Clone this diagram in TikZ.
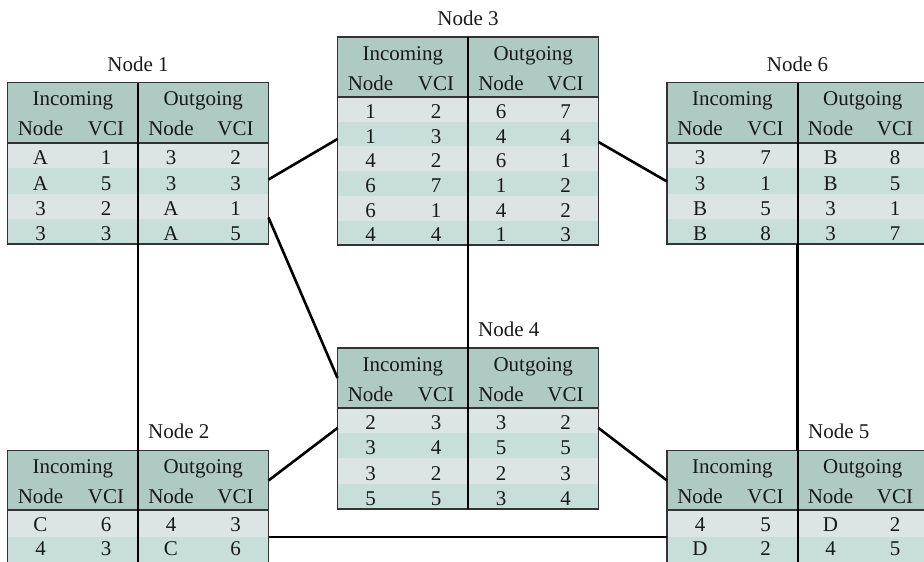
\documentclass[tikz,border=0pt]{standalone}
\usepackage{fontspec}
\setmainfont{Liberation Serif}
\usetikzlibrary{calc}
\definecolor{headfill}{HTML}{AFCAC3}
\definecolor{rowlight}{HTML}{DDE4E6}
\definecolor{rowdark}{HTML}{C8DEDA}
\definecolor{rulegray}{HTML}{333333}
\tikzset{
  cell/.style={anchor=base, inner sep=0pt, text=black!90, font=\fontsize{21}{24}\selectfont},
  lbl/.style={inner sep=0pt, text=black!90, font=\fontsize{21}{24}\selectfont},
  tablebox/.style={draw=rulegray, line width=1.5pt, rectangle, inner sep=0pt, outer sep=0pt, anchor=north west},
  midrule/.style={line width=2pt, black},
  headrule/.style={line width=1.5pt, rulegray},
  link/.style={line width=2.6pt, black},
}
% #1 name, #2 left, #3 top, #4 header height, #5 row height, #6 rows count, #7 rows,
% #8 first text baseline below body top, #9 text line pitch
\newcommand{\vctable}[9]{%
  \fill[headfill] (#2,#3) rectangle ++(261,#4);
  \foreach \a/\b/\c/\d [count=\i] in {#7} {
    \pgfmathsetmacro{\ry}{#3+#4+(\i-1)*#5}
    \pgfmathsetmacro{\ty}{#3+#4+#8+(\i-1)*#9}
    \pgfmathtruncatemacro{\odd}{mod(\i,2)}
    \ifnum\odd=1 \def\rc{rowlight}\else\def\rc{rowdark}\fi
    \fill[\rc] (#2,\ry) rectangle ++(261,#5);
    \node[cell] (#1-\i-a) at (#2+33,\ty) {\a};
    \node[cell] (#1-\i-b) at (#2+98.5,\ty) {\b};
    \node[cell] (#1-\i-c) at (#2+163.5,\ty) {\c};
    \node[cell] (#1-\i-d) at (#2+228,\ty) {\d};
  }
  \node[cell] (#1-in) at (#2+65.25,#3+23) {Incoming};
  \node[cell] (#1-out) at (#2+195.75,#3+23) {Outgoing};
  \node[cell] (#1-h1) at (#2+33,#3+53) {Node};
  \node[cell] (#1-h2) at (#2+98.5,#3+53) {VCI};
  \node[cell] (#1-h3) at (#2+163.5,#3+53) {Node};
  \node[cell] (#1-h4) at (#2+228,#3+53) {VCI};
  \node[tablebox, minimum width=261, minimum height={#4+#5*#6}] (#1) at (#2,#3) {};
  \draw[headrule] (#2,#3+#4) -- ++(261,0);
  \draw[midrule] (#1.north) -- (#1.south);
}
\begin{document}
\begin{tikzpicture}[x=1pt,y=-1pt]
\useasboundingbox (0,0) rectangle (924,562);

\vctable{t1}{7.5}{82.5}{60.5}{25.25}{4}{A/1/3/2, A/5/3/3, 3/2/A/1, 3/3/A/5}{21.8}{25.25}
\vctable{t3}{337.5}{37}{60}{24.7}{6}{1/2/6/7, 1/3/4/4, 4/2/6/1, 6/7/1/2, 6/1/4/2, 4/4/1/3}{21.4}{24.7}
\vctable{t6}{667}{82.5}{60.5}{25.25}{4}{3/7/B/8, 3/1/B/5, B/5/3/1, B/8/3/7}{21.8}{25.25}
\vctable{t4}{337.5}{348}{60}{25.2}{4}{2/3/3/2, 3/4/5/5, 3/2/2/3, 5/5/3/4}{21.6}{25.2}
\vctable{t2}{7.5}{450.5}{59.5}{27}{2}{C/6/4/3, 4/3/C/6}{21.7}{23.3}
\vctable{t5}{667}{450.5}{59.5}{27}{2}{4/5/D/2, D/2/4/5}{21.7}{23.3}

\node[lbl, anchor=base] (l1) at (138,71.5) {Node 1};
\node[lbl, anchor=base] (l3) at (468,25) {Node 3};
\node[lbl, anchor=base] (l6) at (797.5,71.5) {Node 6};
\node[lbl, anchor=base west] (l4) at (478,336) {Node 4};
\node[lbl, anchor=base west] (l2) at (148,438) {Node 2};
\node[lbl, anchor=base west] (l5) at (808,438) {Node 5};

\draw[link] (t1.south) -- (t2.north);
\draw[link] (t3.south) -- (t4.north);
\draw[link] (t6.south) -- (t5.north);
\draw[link] ($(t1.north east)+(0,97)$) -- ($(t3.north west)+(0,102)$);
\draw[link] ($(t1.north east)+(0,135)$) -- ($(t4.north west)+(0,30)$);
\draw[link] ($(t3.north east)+(0,105)$) -- ($(t6.north west)+(0,99)$);
\draw[link] ($(t2.north east)+(0,30)$) -- ($(t4.north west)+(0,80)$);
\draw[link] ($(t4.north east)+(0,80)$) -- ($(t5.north west)+(0,30)$);
\draw[link] ($(t2.north east)+(0,86.5)$) -- ($(t5.north west)+(0,86.5)$);
\end{tikzpicture}
\end{document}
